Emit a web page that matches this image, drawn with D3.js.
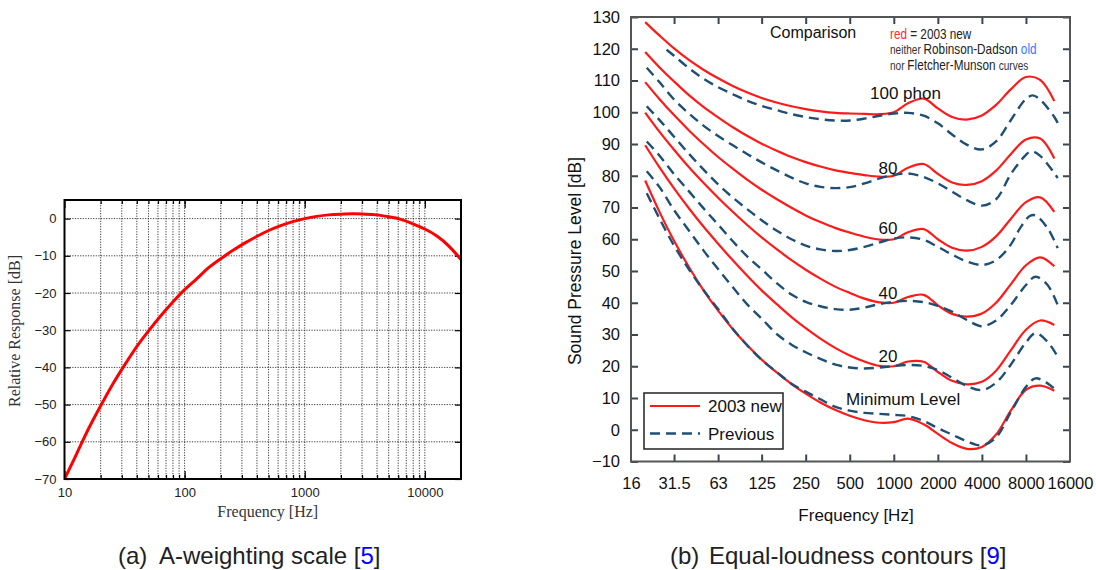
<!DOCTYPE html>
<html>
<head>
<meta charset="utf-8">
<script src="https://cdn.jsdelivr.net/npm/d3@7"></script>
<style>
  html, body { margin: 0; padding: 0; background: #fff; }
  svg { display: block; }
  text { font-family: "Liberation Sans", Arial, Helvetica, sans-serif; }
</style>
</head>
<body>
<svg id="fig" width="1096" height="570"></svg>
<script>
// ---------- (a) A-weighting response ----------
const aFreq = [10, 12.59, 15.85, 19.95, 25.12, 31.62, 39.81, 50.12, 63.1, 79.43, 100, 125.9, 158.5, 199.5, 251.2,
               316.2, 398.1, 501.2, 631, 794.3, 1000, 1259, 1585, 1995, 2512, 3162, 3981, 5012, 6310, 7943,
               10000, 12590, 15850, 20000];
const aGain = [-70.0, -63.3, -56.5, -50.4, -44.6, -39.4, -34.5, -30.2, -26.2, -22.5, -19.1, -16.2, -13.2, -10.8,
               -8.6, -6.6, -4.8, -3.2, -1.9, -0.8, 0, 0.6, 1.0, 1.2, 1.3, 1.2, 1.0, 0.5, -0.2, -1.4, -2.8, -4.7, -7.4, -11.0];
const aTickY = [-70, -60, -50, -40, -30, -20, -10, 0];
const aTickX = [10, 100, 1000, 10000];

// ---------- (b) Equal-loudness contours ----------
// 2003 contours at one-third-octave frequencies
const isoFreq = [20, 25, 31.5, 40, 50, 63, 80, 100, 125, 160, 200, 250, 315, 400, 500, 630, 800, 1000,
                 1250, 1600, 2000, 2500, 3150, 4000, 5000, 6300, 8000, 10000, 12500];
const new100 = [128.4, 124.2, 120.1, 116.4, 113.4, 110.7, 108.2, 106.2, 104.5, 103.0, 101.9, 101.0, 100.3, 99.8,
                99.6, 99.5, 99.4, 100.0, 102.8, 104.3, 101.2, 98.5, 97.7, 99.0, 102.3, 107.2, 111.1, 110.2, 103.5];
const new80 = [119.0, 114.2, 109.7, 105.3, 101.7, 98.4, 95.2, 92.5, 90.1, 87.8, 85.9, 84.3, 82.9, 81.7,
               80.9, 80.2, 79.7, 80.0, 82.5, 83.7, 80.6, 77.9, 77.1, 78.3, 81.6, 86.8, 91.4, 91.7, 85.4];
const new60 = [109.5, 104.2, 99.1, 94.2, 90.0, 85.9, 82.1, 78.7, 75.6, 72.5, 69.9, 67.5, 65.4, 63.5,
               62.1, 60.8, 59.9, 60.0, 62.2, 63.2, 60.0, 57.3, 56.4, 57.6, 60.9, 66.4, 71.7, 73.2, 68.6];
const new40 = [99.9, 93.9, 88.2, 82.6, 77.8, 73.1, 68.5, 64.4, 60.6, 56.7, 53.4, 50.4, 47.6, 45.0,
               43.1, 41.3, 40.1, 40.0, 41.8, 42.5, 39.2, 36.5, 35.6, 36.6, 40.0, 45.8, 51.8, 54.3, 51.5];
const new20 = [89.6, 82.7, 76.0, 69.6, 64.0, 58.6, 53.2, 48.4, 43.9, 39.4, 35.5, 32.0, 28.7, 25.7,
               23.4, 21.5, 20.1, 20.0, 21.5, 21.4, 18.2, 15.4, 14.3, 15.1, 18.6, 25.0, 31.5, 34.4, 33.0];
const newMin = [78.5, 68.7, 59.5, 51.1, 44.0, 37.5, 31.5, 26.5, 22.1, 17.9, 14.4, 11.4, 8.6, 6.2,
                4.4, 3.0, 2.2, 2.4, 3.5, 1.7, -1.3, -4.2, -6.0, -5.4, -1.5, 6.0, 12.6, 13.9, 12.3];

// previous contours
const oldFreq100 = [28, 31.5, 40, 50, 63, 80, 100, 125, 160, 200, 250, 315, 400, 500, 630, 800, 1000, 1250, 1600,
                    2000, 2500, 3150, 4000, 5000, 6300, 8000, 8900, 10000, 12500, 13200];
const old100 = [119.7, 117.8, 113.8, 110.6, 107.9, 105.6, 103.6, 102.0, 100.6, 99.4, 98.5, 97.8, 97.4, 97.4, 98.0,
                98.9, 99.6, 99.8, 98.9, 96.5, 93.0, 89.8, 88.3, 90.8, 97.5, 104.2, 105.3, 104.0, 98.5, 96.6];
const oldFreq80 = [20.5, 25, 31.5, 40, 50, 63, 80, 100, 125, 160, 200, 250, 315, 400, 500, 630, 800, 1000, 1250,
                   1600, 2000, 2500, 3150, 4000, 5000, 6300, 8000, 8700, 10100, 13180];
const old80 = [114.0, 109.5, 104.0, 99.5, 95.8, 92.5, 89.5, 86.8, 84.2, 81.6, 79.4, 77.6, 76.5, 76.1, 76.4, 77.6,
               79.2, 80.3, 80.7, 79.6, 77.6, 75.0, 72.3, 70.6, 72.6, 80.5, 86.6, 87.7, 86.1, 79.3];
const oldFreq60 = [20.5, 25, 31.5, 40, 50, 63, 80, 100, 125, 160, 200, 250, 315, 400, 500, 630, 800, 1000, 1250,
                   1600, 2000, 2500, 3150, 4000, 5000, 6300, 7300, 8500, 9300, 11240, 13180];
const old60 = [101.9, 97.6, 92.3, 86.8, 82.0, 77.3, 73.0, 69.4, 66.0, 62.6, 60.0, 58.0, 56.8, 56.3, 56.6, 57.6,
               59.0, 60.2, 60.6, 59.8, 57.6, 55.2, 53.0, 51.9, 53.4, 58.3, 63.5, 67.3, 67.5, 63.5, 57.2];
const oldFreq40 = [20.5, 25, 31.5, 40, 50, 63, 80, 100, 125, 160, 200, 250, 315, 400, 500, 630, 800, 1000, 1250,
                   1600, 2000, 2500, 3150, 4000, 5000, 6300, 8000, 9300, 11240, 13180];
const old40 = [90.8, 86.4, 80.5, 75.0, 69.8, 64.6, 59.2, 54.5, 50.5, 46.0, 42.6, 40.3, 38.9, 38.0, 37.8, 38.5,
               39.6, 40.3, 40.6, 40.2, 39.0, 37.2, 34.6, 32.6, 34.4, 39.3, 45.6, 48.2, 45.6, 39.3];
const oldFreq20 = [20.5, 25, 31.5, 40, 50, 63, 80, 100, 125, 160, 200, 250, 315, 400, 500, 630, 800, 1000, 1250,
                   1600, 2000, 2500, 3150, 4000, 5000, 6300, 8000, 9300, 11240, 13180];
const old20 = [81.4, 76.5, 69.2, 62.6, 56.5, 50.6, 44.7, 39.4, 35.0, 30.0, 26.8, 24.4, 22.3, 20.5, 19.6, 19.3,
               19.6, 20.1, 20.4, 20.1, 18.8, 16.4, 13.8, 12.5, 14.8, 20.5, 27.5, 30.4, 27.7, 23.0];
const oldFreqMin = [20.5, 25, 31.5, 40, 50, 63, 80, 100, 125, 160, 200, 250, 315, 400, 500, 630, 800, 1000, 1250,
                    1600, 2000, 2500, 3150, 4000, 5000, 6300, 8000, 9300, 11240, 13180];
const oldMin = [74.5, 66.6, 58.0, 50.4, 44.0, 38.0, 31.6, 26.5, 22.0, 18.0, 14.5, 12.0, 9.6, 7.2, 6.0, 5.3,
                5.0, 4.7, 4.3, 2.8, 0.5, -1.5, -3.6, -4.9, -2.4, 5.5, 13.5, 16.2, 14.6, 12.0];

const elTickX = [16, 31.5, 63, 125, 250, 500, 1000, 2000, 4000, 8000, 16000];
const elTickXLabels = ["16", "31.5", "63", "125", "250", "500", "1000", "2000", "4000", "8000", "16000"];
const elTickY = [-10, 0, 10, 20, 30, 40, 50, 60, 70, 80, 90, 100, 110, 120, 130];
const contourLabels = ["100 phon", "80", "60", "40", "20", "Minimum Level"];

const svg = d3.select("#fig");

// =============== panel (a) ===============
(function () {
  const L = 64.5, R = 461, T = 200, B = 479;
  const x = d3.scaleLog().domain([10, 20000]).range([L, R]);
  const y = d3.scaleLinear().domain([-70, 5]).range([B, T]);
  const g = svg.append("g");

  // 2..9 multiples of each decade for the grid
  const gridF = [];
  [10, 100, 1000, 10000].forEach(d => { for (let k = 1; k <= 9; k++) { const f = k * d; if (f > 10 && f < 20000) gridF.push(f); } });

  g.append("g").selectAll("line").data(gridF).join("line")
    .attr("x1", d => x(d)).attr("x2", d => x(d)).attr("y1", T).attr("y2", B)
    .attr("stroke", "#222").attr("stroke-width", 0.9).attr("stroke-dasharray", "1.2,1.4");
  g.append("g").selectAll("line").data(aTickY.filter(v => v > -70)).join("line")
    .attr("x1", L).attr("x2", R).attr("y1", d => y(d)).attr("y2", d => y(d))
    .attr("stroke", "#222").attr("stroke-width", 0.9).attr("stroke-dasharray", "1.2,1.4");

  const styleAxis = sel => {
    sel.select(".domain").remove();
    sel.selectAll(".tick line").attr("stroke", "#000").attr("stroke-width", 1.2);
    sel.selectAll("text").attr("fill", "#222").style("font-size", "13px")
      .style("font-family", "'Liberation Sans', Arial, sans-serif");
  };
  g.append("g").attr("transform", `translate(${L},0)`)
    .call(d3.axisLeft(y).tickValues(aTickY).tickSize(-6).tickPadding(8)).call(styleAxis);
  g.append("g").attr("transform", `translate(${R},0)`)
    .call(d3.axisRight(y).tickValues(aTickY).tickSize(-6).tickFormat("")).call(styleAxis);
  g.append("g").attr("transform", `translate(0,${B})`)
    .call(d3.axisBottom(x).tickValues(aTickX).tickSize(-8).tickPadding(9).tickFormat(d3.format("d"))).call(styleAxis);
  g.append("g").attr("transform", `translate(0,${B})`)
    .call(d3.axisBottom(x).tickValues(gridF).tickSize(-4).tickFormat("")).call(styleAxis);
  g.append("g").attr("transform", `translate(0,${T})`)
    .call(d3.axisTop(x).tickValues(aTickX).tickSize(-8).tickFormat("")).call(styleAxis);
  g.append("g").attr("transform", `translate(0,${T})`)
    .call(d3.axisTop(x).tickValues(gridF).tickSize(-4).tickFormat("")).call(styleAxis);

  svg.append("clipPath").attr("id", "clipA").append("rect")
    .attr("x", L).attr("y", T).attr("width", R - L).attr("height", B - T);
  g.append("path")
    .datum(aFreq.map((f, i) => [f, aGain[i]]))
    .attr("clip-path", "url(#clipA)")
    .attr("fill", "none").attr("stroke", "#ff0000").attr("stroke-width", 3)
    .attr("d", d3.line().x(d => x(d[0])).y(d => y(d[1])).curve(d3.curveNatural));

  g.append("rect").attr("x", L).attr("y", T).attr("width", R - L).attr("height", B - T)
    .attr("fill", "none").attr("stroke", "#000").attr("stroke-width", 2);

  g.append("text").attr("x", (L + R) / 2 + 5).attr("y", 517).attr("text-anchor", "middle")
    .style("font-family", "'Liberation Serif', 'Times New Roman', serif").style("font-size", "16px")
    .attr("fill", "#333").text("Frequency [Hz]");
  g.append("text").attr("transform", "translate(20,331) rotate(-90)").attr("text-anchor", "middle")
    .style("font-family", "'Liberation Serif', 'Times New Roman', serif").style("font-size", "16px")
    .attr("fill", "#333").text("Relative Response [dB]");
})();

// =============== panel (b) ===============
(function () {
  const L = 631, R = 1070, T = 17, B = 461.5;
  const x = d3.scaleLog().domain([16, 16000]).range([L, R]);
  const y = d3.scaleLinear().domain([-10, 130]).range([B, T]);
  const g = svg.append("g");

  const styleAxis = sel => {
    sel.select(".domain").remove();
    sel.selectAll(".tick line").attr("stroke", "#3a4550").attr("stroke-width", 2);
    sel.selectAll("text").attr("fill", "#111").style("font-size", "16.5px")
      .style("font-family", "'Liberation Sans', Arial, sans-serif");
  };
  const innerX = elTickX.slice(1, -1);
  g.append("g").attr("transform", `translate(0,${B})`)
    .call(d3.axisBottom(x).tickValues(elTickX).tickSize(-7).tickPadding(16)
      .tickFormat((d, i) => elTickXLabels[i])).call(styleAxis);
  g.append("g").attr("transform", `translate(0,${T})`)
    .call(d3.axisTop(x).tickValues(innerX).tickSize(-7).tickFormat("")).call(styleAxis);
  g.append("g").attr("transform", `translate(${L},0)`)
    .call(d3.axisLeft(y).tickValues(elTickY).tickSize(-7).tickPadding(11)).call(styleAxis);
  g.append("g").attr("transform", `translate(${R},0)`)
    .call(d3.axisRight(y).tickValues(elTickY).tickSize(-7).tickFormat("")).call(styleAxis);
  // no tick marks on the frame corners
  g.selectAll(".tick line").filter(d => d === 16 || d === 16000).remove();

  const line = d3.line().x(d => x(d[0])).y(d => y(d[1])).curve(d3.curveCatmullRom.alpha(0.5));
  const RED = "#ff1a1a", BLUE = "#1f4f74";

  [new100, new80, new60, new40, new20, newMin].forEach(vals => {
    g.append("path").datum(isoFreq.map((f, i) => [f, vals[i]]))
      .attr("fill", "none").attr("stroke", RED).attr("stroke-width", 2.2).attr("d", line);
  });
  [[oldFreq100, old100], [oldFreq80, old80], [oldFreq60, old60], [oldFreq40, old40], [oldFreq20, old20], [oldFreqMin, oldMin]]
    .forEach(([fs, vals]) => {
      g.append("path").datum(fs.map((f, i) => [f, vals[i]]))
        .attr("fill", "none").attr("stroke", BLUE).attr("stroke-width", 2.4)
        .attr("stroke-dasharray", "10,6").attr("d", line);
    });

  // contour names
  const lblPos = [[870, 98.5, "start"], [888, 173.5, "middle"], [888, 234, "middle"], [888, 298.5, "middle"], [888, 362, "middle"], [846, 404.5, "start"]];
  contourLabels.forEach((t, i) => {
    g.append("text").attr("x", lblPos[i][0]).attr("y", lblPos[i][1]).attr("text-anchor", lblPos[i][2])
      .attr("fill", "#111").style("font-size", "17px").text(t);
  });

  // frame
  g.append("rect").attr("x", L).attr("y", T).attr("width", R - L).attr("height", B - T)
    .attr("fill", "none").attr("stroke", "#555").attr("stroke-width", 2);

  // note in the upper corner
  g.append("text").attr("x", 770).attr("y", 38).attr("fill", "#111").style("font-size", "16px").text("Comparison");
  const note = g.append("g").attr("transform", "translate(890,0) scale(0.84,1)");
  const t1 = note.append("text").attr("x", 0).attr("y", 39).style("font-size", "14px").attr("fill", "#222");
  t1.append("tspan").attr("fill", "#ff2a2a").text("red");
  t1.append("tspan").text(" = 2003 new");
  const t2 = note.append("text").attr("x", 0).attr("y", 54.5).attr("fill", "#222");
  t2.append("tspan").style("font-size", "12px").attr("fill", "#333").text("neither ");
  t2.append("tspan").style("font-size", "14px").text("Robinson-Dadson ");
  t2.append("tspan").style("font-size", "14px").attr("fill", "#2f7cff").text("old");
  const t3 = note.append("text").attr("x", 0).attr("y", 70).attr("fill", "#222");
  t3.append("tspan").style("font-size", "12px").attr("fill", "#333").text("nor ");
  t3.append("tspan").style("font-size", "14px").text("Fletcher-Munson ");
  t3.append("tspan").style("font-size", "12px").attr("fill", "#333").text("curves");

  // legend
  const lg = g.append("g");
  lg.append("rect").attr("x", 644).attr("y", 393).attr("width", 139).attr("height", 56)
    .attr("fill", "#fff").attr("stroke", "#222").attr("stroke-width", 1.5);
  lg.append("line").attr("x1", 650).attr("x2", 700).attr("y1", 406).attr("y2", 406)
    .attr("stroke", RED).attr("stroke-width", 2.2);
  lg.append("line").attr("x1", 650).attr("x2", 700).attr("y1", 433.5).attr("y2", 433.5)
    .attr("stroke", BLUE).attr("stroke-width", 2.4).attr("stroke-dasharray", "10,6");
  lg.append("text").attr("x", 708).attr("y", 412).attr("fill", "#111").style("font-size", "17px").text("2003 new");
  lg.append("text").attr("x", 708).attr("y", 439.5).attr("fill", "#111").style("font-size", "17px").text("Previous");

  // axis titles
  g.append("text").attr("x", 856).attr("y", 521).attr("text-anchor", "middle")
    .attr("fill", "#111").style("font-size", "17px").text("Frequency [Hz]");
  g.append("text").attr("transform", "translate(581,261) rotate(-90)").attr("text-anchor", "middle")
    .attr("fill", "#111").style("font-size", "17.5px").text("Sound Pressure Level [dB]");
})();

// =============== captions ===============
const capA = svg.append("text").attr("x", 118).attr("y", 564).attr("fill", "#222").style("font-size", "24px");
capA.append("tspan").text("(a)");
capA.append("tspan").attr("x", 159).text("A-weighting scale [");
capA.append("tspan").attr("fill", "#0000ff").text("5");
capA.append("tspan").text("]");
const capB = svg.append("text").attr("x", 670).attr("y", 564).attr("fill", "#222").style("font-size", "24px");
capB.append("tspan").text("(b)");
capB.append("tspan").attr("x", 709).text("Equal-loudness contours [");
capB.append("tspan").attr("fill", "#0000ff").text("9");
capB.append("tspan").text("]");
</script>
</body>
</html>
